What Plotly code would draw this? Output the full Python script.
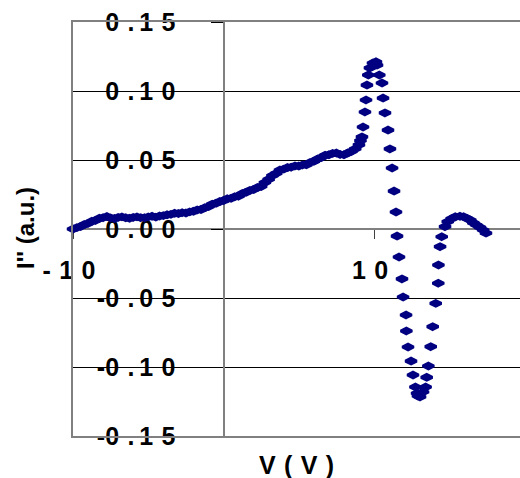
import plotly.graph_objects as go

# ---- data ----
voltage = [
    -10.0, -9.75, -9.5, -9.25, -9.0, -8.75, -8.5, -8.25, -8.0, -7.75, -7.5, -7.25,
    -7.0, -6.75, -6.5, -6.25, -6.0, -5.75, -5.5, -5.25, -5.0, -4.75, -4.5, -4.25,
    -4.0, -3.75, -3.5, -3.25, -3.0, -2.75, -2.5, -2.25, -2.0, -1.75, -1.5, -1.25,
    -1.0, -0.75, -0.5, -0.25, 0.0, 0.25, 0.5, 0.75, 1.0, 1.25, 1.5, 1.75,
    2.0, 2.25, 2.5, 2.75, 3.0, 3.25, 3.5, 3.75, 4.0, 4.25, 4.5, 4.75,
    5.0, 5.25, 5.5, 5.75, 6.0, 6.25, 6.5, 6.75, 7.0, 7.25, 7.5, 7.75,
    8.0, 8.25, 8.5, 8.75, 9.0, 9.1,
    9.2, 9.27, 9.4, 9.47, 9.53, 9.62, 9.73, 9.93, 10.13, 10.2, 10.35,
    10.53, 10.6, 10.73, 10.93, 11.06, 11.2, 11.33, 11.46, 11.53,
    11.66, 11.86, 11.93, 12.13, 12.15, 12.26, 12.46, 12.59, 12.75, 12.86, 12.92,
    13.06, 13.26, 13.43, 13.5, 13.61, 13.77, 13.9, 14.1, 14.27, 14.28, 14.39, 14.5,
    14.72, 14.9, 15.16, 15.4, 15.71, 15.95, 16.16, 16.4, 16.6, 16.8, 17.04, 17.25, 17.44,
]
d2i = [
    0.0000, 0.0010, 0.0018, 0.0032, 0.0040, 0.0056, 0.0062, 0.0078, 0.0082, 0.0090, 0.0080, 0.0076,
    0.0084, 0.0088, 0.0081, 0.0078, 0.0084, 0.0088, 0.0082, 0.0081, 0.0088, 0.0092, 0.0086, 0.0094,
    0.0097, 0.0103, 0.0106, 0.0114, 0.0112, 0.0118, 0.0116, 0.0124, 0.0128, 0.0138, 0.0141, 0.0154,
    0.0162, 0.0180, 0.0186, 0.0199, 0.0206, 0.0219, 0.0222, 0.0234, 0.0238, 0.0257, 0.0266, 0.0280,
    0.0286, 0.0300, 0.0308, 0.0337, 0.0360, 0.0387, 0.0403, 0.0427, 0.0434, 0.0445, 0.0448, 0.0457,
    0.0456, 0.0464, 0.0465, 0.0482, 0.0490, 0.0507, 0.0518, 0.0534, 0.0538, 0.0548, 0.0550, 0.0540,
    0.0538, 0.0550, 0.0562, 0.0580, 0.0610, 0.0640,
    0.0667, 0.0739, 0.0848, 0.0935, 0.1043, 0.1116, 0.1167, 0.1203, 0.1212, 0.1188, 0.1116,
    0.1058, 0.0949, 0.0841, 0.0717, 0.0580, 0.0442, 0.0275, 0.0123, -0.0051,
    -0.0203, -0.0362, -0.0493, -0.0623, -0.0739, -0.0855, -0.0957, -0.1058, -0.1145, -0.1190, -0.1210,
    -0.1217, -0.1181, -0.1145, -0.1075, -0.0993, -0.0853, -0.0708, -0.0539, -0.0393, -0.0261, -0.0128,
    -0.0056, 0.0017, 0.0053, 0.0075, 0.0089, 0.0092, 0.0089, 0.0078, 0.0065, 0.0045, 0.0029, 0.0012,
    -0.0007, -0.0030, -0.0065,
]

S3 = "\u2004"   # three-per-em space (wide character spacing as in the original)
S9 = "\u2009"   # thin space
x_tick_vals = [-10, 10]
x_tick_text = ["-" + S3 + "1" + S3 + "0", "1" + S3 + "0"]
y_tick_vals = [-0.15, -0.10, -0.05, 0.0, 0.05, 0.10, 0.15]
y_tick_labels = ["-0.15", "-0.10", "-0.05", "0.00", "0.05", "0.10", "0.15"]
y_tick_text = [t.replace("0.", "0" + S3 + "." + S9).replace("1", "1" + S3)
               .replace("0" + S3 + "." + S9 + "0", "0" + S3 + "." + S9 + "0" + S3)
               for t in y_tick_labels]
grid_vals = [-0.10, -0.05, 0.05, 0.10]

x_title = "V" + S3 + "(" + S3 + "V" + S3 + ")"
y_title = "I'' (a.u.)"

NAVY = "#000080"
GRAY = "#808080"
FONT = "Arial, Liberation Sans, sans-serif"
XR = [-10, 19.7]
YR = [-0.15, 0.15]
TICKFONT = dict(family=FONT, size=25, color="black", weight="bold")

fig = go.Figure()
# frame + gridlines subplot (x, y): carries an invisible copy so it is drawn
fig.add_trace(go.Scatter(
    x=voltage, y=d2i, mode="markers", marker=dict(opacity=0),
    showlegend=False, hoverinfo="skip",
))
# visible data on the overlay axes that cross at (0, 0)
fig.add_trace(go.Scatter(
    x=voltage, y=d2i, xaxis="x2", yaxis="y2",
    mode="markers",
    marker=dict(symbol="diamond-wide", size=8, color=NAVY,
                line=dict(color=NAVY, width=3)),
    cliponaxis=False, showlegend=False, hoverinfo="skip",
))

fig.update_layout(
    width=520, height=478,
    margin=dict(l=73, r=0, t=22, b=42, autoexpand=False),
    paper_bgcolor="white", plot_bgcolor="white",
    font=dict(family=FONT, color="black"),
    xaxis=dict(range=XR, domain=[0, 1], showline=True, linecolor=GRAY, linewidth=2,
               mirror=True, showgrid=False, zeroline=False, showticklabels=False,
               ticks="", automargin=False),
    yaxis=dict(range=YR, domain=[0, 1], showline=True, linecolor=GRAY, linewidth=2,
               showgrid=True, gridcolor="black", gridwidth=1, tickvals=grid_vals,
               showticklabels=False, ticks="", zeroline=False, automargin=False),
    xaxis2=dict(range=XR, overlaying="x", anchor="free", position=0.5,
                showline=True, linecolor=GRAY, linewidth=2, layer="below traces",
                ticks="outside", ticklen=9, tickcolor="#404040", tickwidth=1,
                tickvals=x_tick_vals, ticktext=x_tick_text, tickfont=TICKFONT,
                ticklabelstandoff=10, ticklabelshift=-4,
                showgrid=False, zeroline=False, automargin=False),
    yaxis2=dict(range=YR, overlaying="y", anchor="free", position=10 / 29.7,
                showline=True, linecolor=GRAY, linewidth=2, layer="below traces",
                ticks="outside", ticklen=12, tickcolor="black", tickwidth=1,
                tickvals=y_tick_vals, ticktext=y_tick_text, tickfont=TICKFONT,
                ticklabelstandoff=30,
                showgrid=False, zeroline=False, automargin=False),
    annotations=[
        dict(text=x_title, xref="paper", yref="paper", x=(296 - 73) / 447, y=(436 - 465) / 414,
             xanchor="center", yanchor="middle", showarrow=False,
             font=dict(family=FONT, size=25, color="black", weight="bold")),
        dict(text=y_title, xref="paper", yref="paper", x=(25 - 73) / 447, y=(436 - 228) / 414,
             xanchor="center", yanchor="middle", showarrow=False, textangle=-90,
             font=dict(family=FONT, size=24, color="black", weight="bold")),
    ],
)

fig.write_html("out.html", config={"displayModeBar": False},
               post_script="document.body.style.margin='0';")
